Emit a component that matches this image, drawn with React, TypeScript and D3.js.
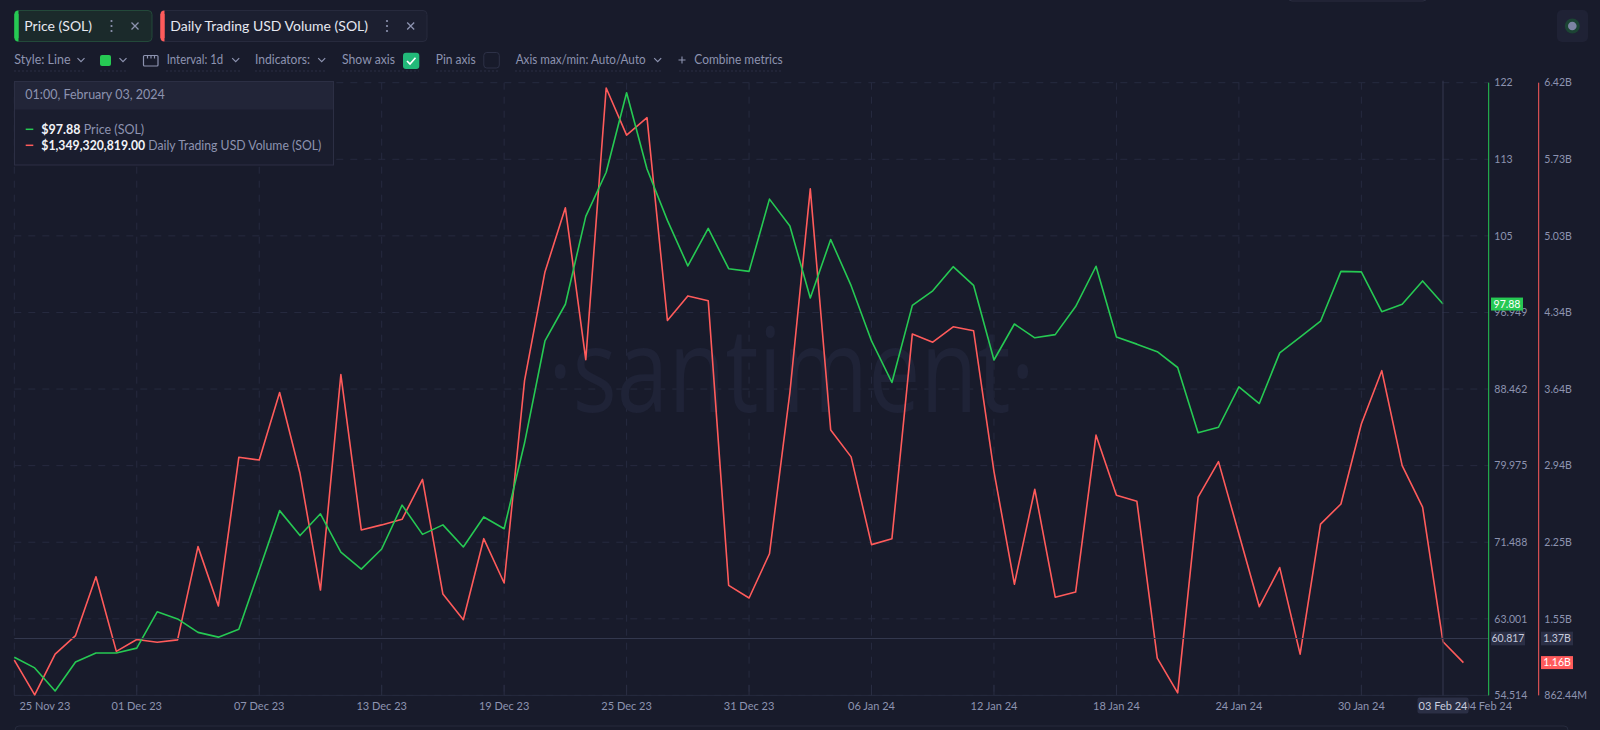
import * as d3 from "d3"

// ---- data ----
const START = Date.UTC(2023, 10, 25)
const DAY = 86400000

// Price (SOL), daily, 25 Nov 23 -> 03 Feb 24
const price = [
  58.74, 57.56, 55.01, 58.21, 59.22, 59.22, 59.75, 63.78, 62.99, 61.5,
  60.97, 61.85, 68.38, 74.99, 72.23, 74.64, 70.39, 68.51, 70.74, 75.6,
  72.36, 73.41, 70.96, 74.29, 72.98, 82.48, 93.79, 97.86, 107.59, 112.49,
  121.3, 112.84, 107.15, 102.11, 106.27, 101.8, 101.5, 109.51, 106.53, 98.56,
  105.04, 99.92, 93.79, 89.19, 97.73, 99.35, 102.02, 99.96, 91.68, 95.67,
  94.14, 94.49, 97.6, 102.07, 94.22, 93.44, 92.6, 90.85, 83.62, 84.23,
  88.7, 86.86, 92.47, 94.22, 95.98, 101.5, 101.45, 97.03, 97.86, 100.44,
  97.88,
]

// Daily Trading USD Volume (SOL), billions, 25 Nov 23 -> 04 Feb 24
const volume = [
  1.183, 0.867, 1.237, 1.405, 1.939, 1.262, 1.369, 1.344, 1.366, 2.212,
  1.674, 3.022, 2.997, 3.61, 2.875, 1.818, 3.772, 2.363, 2.409, 2.46,
  2.822, 1.782, 1.549, 2.284, 1.882, 3.718, 4.704, 5.285, 3.908, 6.372,
  5.945, 6.103, 4.263, 4.486, 4.443, 1.861, 1.746, 2.147, 3.61, 5.457,
  3.27, 3.026, 2.23, 2.284, 4.141, 4.066, 4.206, 4.17, 2.893, 1.871,
  2.732, 1.753, 1.8, 3.223, 2.678, 2.624, 1.201, 0.885, 2.66, 2.983,
  2.327, 1.667, 2.022, 1.237, 2.416, 2.599, 3.324, 3.808, 2.947, 2.571,
  1.349, 1.16,
]

const priceTicks = [54.514, 63.001, 71.488, 79.975, 88.462, 96.949, 105.436, 113.923, 122.41]
const priceTickLabels = ["54.514", "63.001", "71.488", "79.975", "88.462", "96.949", "105", "113", "122"]
const volumeTicks = [0.86244, 1.55714, 2.25184, 2.94654, 3.64124, 4.33594, 5.03064, 5.72534, 6.42004]
const volumeTickLabels = ["862.44M", "1.55B", "2.25B", "2.94B", "3.64B", "4.34B", "5.03B", "5.73B", "6.42B"]
const xTickDays = ["2023-11-25", "2023-12-01", "2023-12-07", "2023-12-13", "2023-12-19", "2023-12-25",
  "2023-12-31", "2024-01-06", "2024-01-12", "2024-01-18", "2024-01-24", "2024-01-30"]

const hoverIndex = 70
const hoverPrice = 97.88
const hoverVolume = 1.349320819
const lastVolume = 1.16
const crossPrice = 60.817
const crossVolumeLabel = "1.37B"

// ---- style ----
const BG = "#181b2b"
const GREEN = "#26c953"
const RED = "#ff5b5b"
const MUTED = "#8d93b0"
const GRID = "#262a3f"
const FONT = "Lato, 'Open Sans', sans-serif"

const plotLeft = 14.3
const plotRight = 1488.7
const volAxisX = 1538.7
const yTop = 82.7
const yBottom = 695.4
const dayW = 20.41

function Chevron({ x, y }) {
  return <path d={`M${x - 3.5},${y - 1.8} L${x},${y + 1.7} L${x + 3.5},${y - 1.8}`} stroke={MUTED} strokeWidth={1.2} fill="none" />
}

function Kebab({ x, y }) {
  return (
    <g fill={MUTED}>
      <circle cx={x} cy={y - 5} r={1.1} />
      <circle cx={x} cy={y} r={1.1} />
      <circle cx={x} cy={y + 5} r={1.1} />
    </g>
  )
}

function Cross({ x, y }) {
  const s = 3.5
  return <path d={`M${x - s},${y - s} L${x + s},${y + s} M${x + s},${y - s} L${x - s},${y + s}`} stroke={MUTED} strokeWidth={1.3} />
}

export default function App() {
  const x = d3.scaleUtc().domain([START, START + 72 * DAY]).range([plotLeft, plotLeft + 72 * dayW])
  const yP = d3.scaleLinear().domain([priceTicks[0], priceTicks[8]]).range([yBottom, yTop])
  const yV = d3.scaleLinear().domain([volumeTicks[0], volumeTicks[8]]).range([yBottom, yTop])
  const fmt = d3.utcFormat("%d %b %y")

  const priceLine = d3.line<number>().x((_, i) => x(START + i * DAY)).y(d => yP(d))
  const volLine = d3.line<number>().x((_, i) => x(START + i * DAY)).y(d => yV(d))

  const hx = x(START + hoverIndex * DAY)
  const crossY = yP(crossPrice)

  const toolbarText = { fill: MUTED, fontSize: 12.5, fontFamily: FONT }
  const underline = (x1, x2) => <line x1={x1} x2={x2} y1={71} y2={71} stroke="#2b2f45" strokeDasharray="2 2" />

  return (
    <svg width={1600} height={730} style={{ position: "fixed", left: 0, top: 0 }} fontFamily={FONT}>
      <rect width={1600} height={730} fill={BG} />

      {/* top decorations */}
      <rect x={1288} y={-20} width={139} height={21} rx={4} fill="none" stroke="#2a2d41" />
      <rect x={1557} y={10} width={31} height={32} rx={5} fill="#1f2235" />
      <circle cx={1572.3} cy={26} r={7.5} fill="#1c4434" />
      <circle cx={1572.3} cy={26} r={4.3} fill="#7c83a3" />

      {/* metric tabs */}
      <rect x={14.5} y={10.5} width={137.5} height={31} rx={4} fill="#1b2a2b" stroke="#23493a" />
      <path d="M18.5,10.5 a4,4 0 0 0 -4,4 v23 a4,4 0 0 0 4,4 z" fill={GREEN} />
      <rect x={14.5} y={14} width={4} height={24} fill={GREEN} />
      <text x={24.3} y={31} fill="#e6e8f0" fontSize={14}>Price (SOL)</text>
      <Kebab x={111.5} y={26} />
      <Cross x={135} y={26} />

      <rect x={160.5} y={10.5} width={266.5} height={31} rx={4} fill="#1c1f30" stroke="#272a3d" />
      <rect x={160.5} y={14} width={4} height={24} fill={RED} />
      <path d="M164.5,10.5 a4,4 0 0 0 -4,4 v23 a4,4 0 0 0 4,4 z" fill={RED} />
      <text x={170.3} y={31} fill="#e6e8f0" fontSize={14}>Daily Trading USD Volume (SOL)</text>
      <Kebab x={387} y={26} />
      <Cross x={410.7} y={26} />

      {/* toolbar */}
      <text x={14.3} y={64.3} {...toolbarText}>Style: Line</text>
      <Chevron x={81} y={60} />
      {underline(14, 86)}
      <rect x={100} y={55} width={11} height={11} rx={2} fill={GREEN} />
      <Chevron x={123} y={60} />
      {underline(100, 128)}
      <rect x={143.5} y={55.5} width={14.5} height={10.5} rx={1} fill="none" stroke={MUTED} strokeWidth={1.2} />
      <path d="M147.5,55.5 v3 M151,55.5 v3 M154.5,55.5 v3" stroke={MUTED} strokeWidth={1.2} />
      <text x={166.7} y={64.3} {...toolbarText} textLength={56.5} lengthAdjust="spacingAndGlyphs">Interval: 1d</text>
      <Chevron x={235.7} y={60} />
      {underline(166, 241)}
      <text x={255} y={64.3} {...toolbarText} textLength={55} lengthAdjust="spacingAndGlyphs">Indicators:</text>
      <Chevron x={321.7} y={60} />
      {underline(255, 327)}
      <text x={342} y={64.3} {...toolbarText} textLength={53} lengthAdjust="spacingAndGlyphs">Show axis</text>
      <rect x={403} y={52.7} width={16.3} height={16.3} rx={3} fill="#22b979" />
      <path d="M407,61 L410,64 L415.5,57.8" stroke="#fff" strokeWidth={1.7} fill="none" />
      {underline(342, 419)}
      <text x={435.7} y={64.3} {...toolbarText} textLength={40} lengthAdjust="spacingAndGlyphs">Pin axis</text>
      <rect x={483.8} y={52.5} width={15.5} height={15.5} rx={3} fill="none" stroke="#2d3147" />
      {underline(436, 499)}
      <text x={515.7} y={64.3} {...toolbarText} textLength={130} lengthAdjust="spacingAndGlyphs">Axis max/min: Auto/Auto</text>
      <Chevron x={657.7} y={60} />
      {underline(515, 663)}
      <path d="M678.5,60 h7 M682,56.5 v7" stroke={MUTED} strokeWidth={1.1} />
      <text x={694.3} y={64.3} {...toolbarText} textLength={88.5} lengthAdjust="spacingAndGlyphs">Combine metrics</text>
      {underline(679, 783)}

      {/* grid */}
      {priceTicks.map((t, i) => (
        <line key={"h" + i} x1={plotLeft} x2={plotRight} y1={yP(t)} y2={yP(t)} stroke={GRID} strokeDasharray="7 7" />
      ))}
      {xTickDays.map(d => {
        const px = x(new Date(d + "T00:00:00Z"))
        return <line key={"v" + d} x1={px} x2={px} y1={yTop} y2={yBottom} stroke={GRID} strokeDasharray="7 7" />
      })}

      {/* watermark */}
      <text x={548} y={412} fontFamily="'Open Sans', sans-serif" fontWeight={400} fontSize={118} fill="#1f2337"
        textLength={487} lengthAdjust="spacingAndGlyphs">·santiment·</text>

      {/* x axis */}
      <line x1={plotLeft} x2={plotRight} y1={yBottom} y2={yBottom} stroke="#262a3e" />
      {xTickDays.map((d, i) => {
        const px = x(new Date(d + "T00:00:00Z"))
        return (
          <g key={"xt" + d}>
            <line x1={px} x2={px} y1={685} y2={yBottom} stroke="#2a2e43" />
            <text x={i === 0 ? 19.4 : px} y={709.5} fill={MUTED} fontSize={11} textAnchor={i === 0 ? "start" : "middle"}>{fmt(new Date(d + "T00:00:00Z"))}</text>
          </g>
        )
      })}
      <text x={plotRight - 1} y={709.5} fill={MUTED} fontSize={11} textAnchor="middle">04 Feb 24</text>

      {/* series */}
      <path d={volLine(volume)} fill="none" stroke={RED} strokeWidth={1.6} strokeLinejoin="round" />
      <path d={priceLine(price)} fill="none" stroke={GREEN} strokeWidth={1.6} strokeLinejoin="round" />

      {/* crosshair */}
      <line x1={plotLeft} x2={plotRight} y1={crossY} y2={crossY} stroke="#343950" />
      <line x1={hx} x2={hx} y1={yTop - 2} y2={yBottom} stroke="#343950" />
      <rect x={hx - 25.5} y={697.5} width={51} height={16} rx={2} fill="#2b2f45" />
      <text x={hx} y={709.5} fill="#c8ccdf" fontSize={11} textAnchor="middle">03 Feb 24</text>

      {/* right axes */}
      <line x1={plotRight} x2={plotRight} y1={yTop} y2={yBottom} stroke={GREEN} />
      <line x1={volAxisX} x2={volAxisX} y1={yTop} y2={yBottom} stroke={RED} />
      {priceTicks.map((t, i) => (
        <text key={"pt" + i} x={plotRight + 5.6} y={yP(t) + 3.7} fill={MUTED} fontSize={10.5}>{priceTickLabels[i]}</text>
      ))}
      {volumeTicks.map((t, i) => (
        <text key={"vt" + i} x={volAxisX + 5.6} y={yV(t) + 3.7} fill={MUTED} fontSize={10.5}>{volumeTickLabels[i]}</text>
      ))}

      {/* value badges */}
      <rect x={plotRight + 2.3} y={yP(hoverPrice) - 6.5} width={32} height={13} fill={GREEN} />
      <text x={plotRight + 18.3} y={yP(hoverPrice) + 3.7} fill="#fff" fontSize={10.5} textAnchor="middle">{hoverPrice.toFixed(2)}</text>
      <rect x={plotRight + 2.3} y={crossY - 6.8} width={34} height={13.6} fill="#2b2f45" />
      <text x={plotRight + 19.3} y={crossY + 3.7} fill="#c5c9dc" fontSize={10.5} textAnchor="middle">{crossPrice.toFixed(3)}</text>
      <rect x={volAxisX + 2.3} y={crossY - 6.8} width={32} height={13.6} fill="#2b2f45" />
      <text x={volAxisX + 18.3} y={crossY + 3.7} fill="#c5c9dc" fontSize={10.5} textAnchor="middle">{crossVolumeLabel}</text>
      <rect x={volAxisX + 2.3} y={yV(lastVolume) - 6.5} width={32} height={13} fill={RED} />
      <text x={volAxisX + 18.3} y={yV(lastVolume) + 3.7} fill="#fff" fontSize={10.5} textAnchor="middle">{lastVolume.toFixed(2) + "B"}</text>

      {/* tooltip */}
      <rect x={14.5} y={81.5} width={319} height={83.5} fill="#1a1d2e" stroke="#2c2f44" />
      <rect x={15} y={82} width={318} height={27.5} fill="#222538" />
      <text x={25.3} y={99.3} fill={MUTED} fontSize={12.5}>01:00, February 03, 2024</text>
      <line x1={25.7} x2={33.3} y1={129.3} y2={129.3} stroke={GREEN} strokeWidth={1.5} />
      <text x={41.3} y={133.6} fontSize={12.5}>
        <tspan fill="#f2f3f8" fontWeight={700}>{"$" + hoverPrice.toFixed(2)}</tspan>
        <tspan fill={MUTED}> Price (SOL)</tspan>
      </text>
      <line x1={25.7} x2={33.3} y1={145.3} y2={145.3} stroke={RED} strokeWidth={1.5} />
      <text x={41.3} y={149.6} fontSize={12.5} textLength={280} lengthAdjust="spacingAndGlyphs">
        <tspan fill="#f2f3f8" fontWeight={700}>{"$" + d3.format(",.2f")(hoverVolume * 1e9)}</tspan>
        <tspan fill={MUTED}> Daily Trading USD Volume (SOL)</tspan>
      </text>

      {/* bottom panel edge */}
      <path d="M15,735 v-5 a4,4 0 0 1 4,-4 h1545 a4,4 0 0 1 4,4 v5" fill="none" stroke="#262a3d" />
    </svg>
  )
}
